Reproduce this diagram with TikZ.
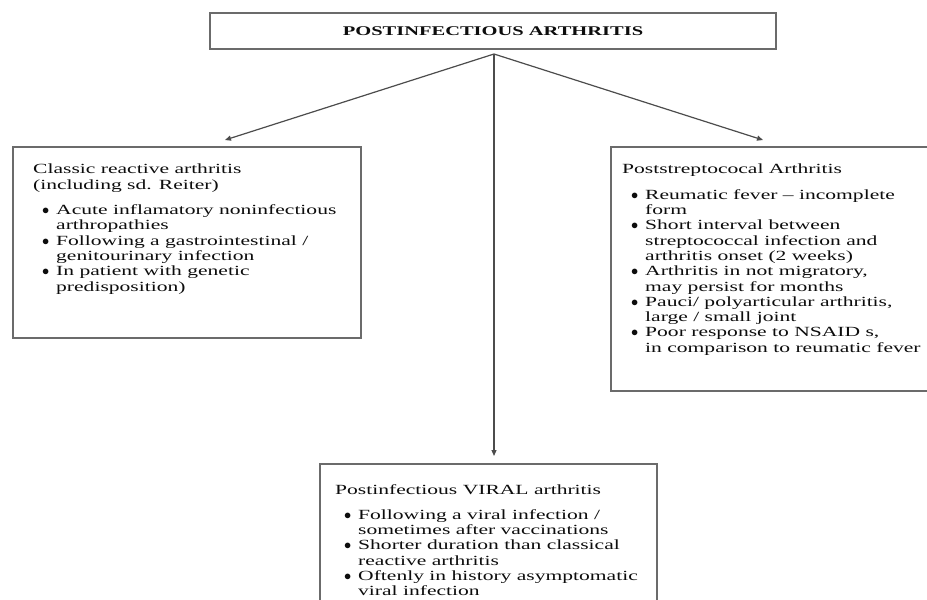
\documentclass[tikz,border=0pt]{standalone}
\usepackage{fontspec}
\setmainfont{Liberation Serif}[FakeStretch=1.54]
\usepackage{tikz}
\usetikzlibrary{arrows.meta}
\newlength{\bulw}\setlength{\bulw}{14pt}
\newlength{\bulin}\setlength{\bulin}{9pt}
\newcommand{\itm}[1]{\hspace*{\bulin}\makebox[\bulw][l]{$\bullet$}#1}
\newcommand{\cnt}[1]{\hspace*{\bulin}\hspace*{\bulw}#1}

\begin{document}
\begin{tikzpicture}[x=1pt,y=-1pt,
		box/.style={draw=black!58,line width=1.5pt,inner sep=0pt,anchor=north west},
		txt/.style={inner sep=0pt,anchor=north west,align=left,text=black!95,
			font=\fontsize{14}{15.3}\selectfont},
		arr/.style={draw=black!70,line width=1.2pt,-{Triangle[length=6pt,width=5pt]}}]
				%%%%% START %%%%%
				\clip (0,0) rectangle (927,600);
				\fill[white] (0,0) rectangle (927,600);
				\def\tpy{146}
				\def\gap{10pt}
				
				\node[draw=black!58,line width=1.5pt,minimum width=566pt,minimum height=36pt,
					font=\fontsize{13.3}{15}\selectfont\bfseries,text=black!95] (pa) at (493,31) {POSTINFECTIOUS ARTHRITIS};
				
				\node[box,minimum width=348pt,minimum height=191pt] (cra) at (12,\tpy) {};
				\node[box,minimum width=322pt,minimum height=244pt] (psa) at (610,\tpy) {};
				\node[box,minimum width=337pt,minimum height=150pt] (pva) at (319,463) {};
				
				\node[txt] (craTxt) at (33,164) {Classic reactive arthritis\\
					(including sd. Reiter)\\[\gap]
					\itm{Acute inflamatory noninfectious}\\
					\cnt{arthropathies}\\
					\itm{Following a gastrointestinal /}\\
					\cnt{genitourinary infection}\\
					\itm{In patient with genetic}\\
					\cnt{predisposition)}};
				
				\node[txt] (psaTxt) at (622,164) {Poststreptococal Arthritis\\[\gap]
					\itm{Reumatic fever -- incomplete}\\
					\cnt{form}\\
					\itm{Short interval between}\\
					\cnt{streptococcal infection and}\\
					\cnt{arthritis onset (2 weeks)}\\
					\itm{Arthritis in not migratory,}\\
					\cnt{may persist for months}\\
					\itm{Pauci/ polyarticular arthritis,}\\
					\cnt{large / small joint}\\
					\itm{Poor response to NSAID s,}\\
					\cnt{in comparison to reumatic fever}};
				
				\node[txt] (pvaTxt) at (335,484) {Postinfectious VIRAL arthritis\\[\gap]
					\itm{Following a viral infection /}\\
					\cnt{sometimes after vaccinations}\\
					\itm{Shorter duration than classical}\\
					\cnt{reactive arthritis}\\
					\itm{Oftenly in history asymptomatic}\\
					\cnt{viral infection}};
				
				\coordinate (fork) at (494,54);
				\coordinate (craTip) at (225,140);
				\coordinate (psaTip) at (763,140);
				\coordinate (pvaTip) at (494,456);
				
				\draw[arr] (fork) -- (craTip);
				\draw[arr] (fork) -- (psaTip);
				\draw[arr] (fork) -- (pvaTip);
				%%%%% END %%%%%
			\end{tikzpicture}
\end{document}
